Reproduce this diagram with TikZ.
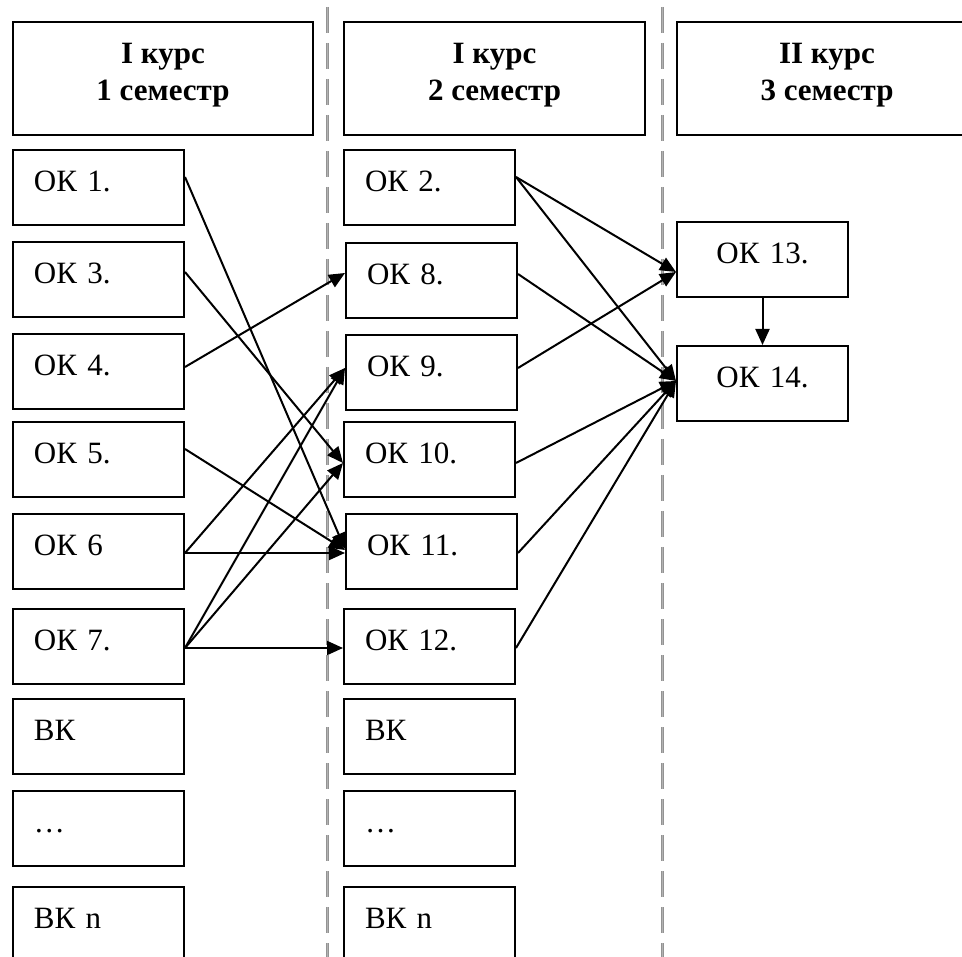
\documentclass[tikz,border=0pt]{standalone}
\usepackage{fontspec}
\setmainfont{Liberation Serif}
\usetikzlibrary{arrows.meta}
\begin{document}
\begin{tikzpicture}[x=1pt,y=-1pt,
  box/.style={draw, line width=2pt, anchor=north west, minimum height=75pt,
    inner xsep=21pt, inner ysep=0pt, text width=129pt, align=left,
    text height=22pt, text depth=14pt, font=\fontsize{31}{36}\selectfont},
  cbox/.style={box, align=center},
  hdr/.style={draw, line width=2pt, anchor=north west, minimum height=113pt,
    inner sep=0pt, align=center, text depth=13pt,
    font=\bfseries\fontsize{31}{37}\selectfont},
  arr/.style={line width=2pt, -{Triangle[length=16pt,width=14pt]}},
  sepline/.style={draw=gray!85, double=gray!60, double distance=1pt,
    line width=1pt, dash pattern=on 26pt off 10pt}]
\useasboundingbox (0,0) rectangle (962,957);
\clip (0,0) rectangle (962,957);
% separators
\coordinate (s1t) at (327,7);  \coordinate (s1b) at (327,980);
\coordinate (s2t) at (662,7);  \coordinate (s2b) at (662,980);
\draw[sepline] (s1t) -- (s1b);
\draw[sepline] (s2t) -- (s2b);
% headers
\node[hdr, minimum width=300pt] (h1) at (12,21) {I курс\\1 семестр};
\node[hdr, minimum width=301pt] (h2) at (343,21) {I курс\\2 семестр};
\node[hdr, minimum width=300pt] (h3) at (676,21) {II курс\\3 семестр};
% column 1
\node[box] (ok1) at (12,149) {ОК 1.};
\node[box] (ok3) at (12,241) {ОК 3.};
\node[box] (ok4) at (12,333) {ОК 4.};
\node[box] (ok5) at (12,421) {ОК 5.};
\node[box] (ok6) at (12,513) {ОК 6};
\node[box] (ok7) at (12,608) {ОК 7.};
\node[box] (vk1) at (12,698) {ВК};
\node[box] (dots1) at (12,790) {\dots};
\node[box] (vkn1) at (12,886) {ВК n};
% column 2
\node[box] (ok2) at (343,149) {ОК 2.};
\node[box] (ok8) at (345,242) {ОК 8.};
\node[box] (ok9) at (345,334) {ОК 9.};
\node[box] (ok10) at (343,421) {ОК 10.};
\node[box] (ok11) at (345,513) {ОК 11.};
\node[box] (ok12) at (343,608) {ОК 12.};
\node[box] (vk2) at (343,698) {ВК};
\node[box] (dots2) at (343,790) {\dots};
\node[box] (vkn2) at (343,886) {ВК n};
% column 3
\node[cbox] (ok13) at (676,221) {ОК 13.};
\node[cbox] (ok14) at (676,345) {ОК 14.};
% arrows column 1 -> column 2
\draw[arr] ([yshift=-28pt]ok1.north east) -- ([yshift=-36pt]ok11.north west);
\draw[arr] ([yshift=-31pt]ok3.north east) -- ([yshift=-42pt]ok10.north west);
\draw[arr] ([yshift=-34pt]ok4.north east) -- ([yshift=-31pt]ok8.north west);
\draw[arr] ([yshift=-28pt]ok5.north east) -- ([yshift=-37pt]ok11.north west);
\draw[arr] ([yshift=-40pt]ok6.north east) -- ([yshift=-34pt]ok9.north west);
\draw[arr] ([yshift=-40pt]ok6.north east) -- ([yshift=-40pt]ok11.north west);
\draw[arr] ([yshift=-40pt]ok7.north east) -- ([yshift=-34pt]ok9.north west);
\draw[arr] ([yshift=-40pt]ok7.north east) -- ([yshift=-42pt]ok10.north west);
\draw[arr] ([yshift=-40pt]ok7.north east) -- ([yshift=-40pt]ok12.north west);
% arrows column 2 -> column 3
\draw[arr] ([yshift=-28pt]ok2.north east) -- ([yshift=-51pt]ok13.north west);
\draw[arr] ([yshift=-28pt]ok2.north east) -- ([yshift=-36pt]ok14.north west);
\draw[arr] ([yshift=-32pt]ok8.north east) -- ([yshift=-36pt]ok14.north west);
\draw[arr] ([yshift=-34pt]ok9.north east) -- ([yshift=-51pt]ok13.north west);
\draw[arr] ([yshift=-42pt]ok10.north east) -- ([yshift=-36pt]ok14.north west);
\draw[arr] ([yshift=-40pt]ok11.north east) -- ([yshift=-36pt]ok14.north west);
\draw[arr] ([yshift=-40pt]ok12.north east) -- ([yshift=-36pt]ok14.north west);
\draw[arr] (ok13.south) -- (ok14.north);
\end{tikzpicture}
\end{document}
